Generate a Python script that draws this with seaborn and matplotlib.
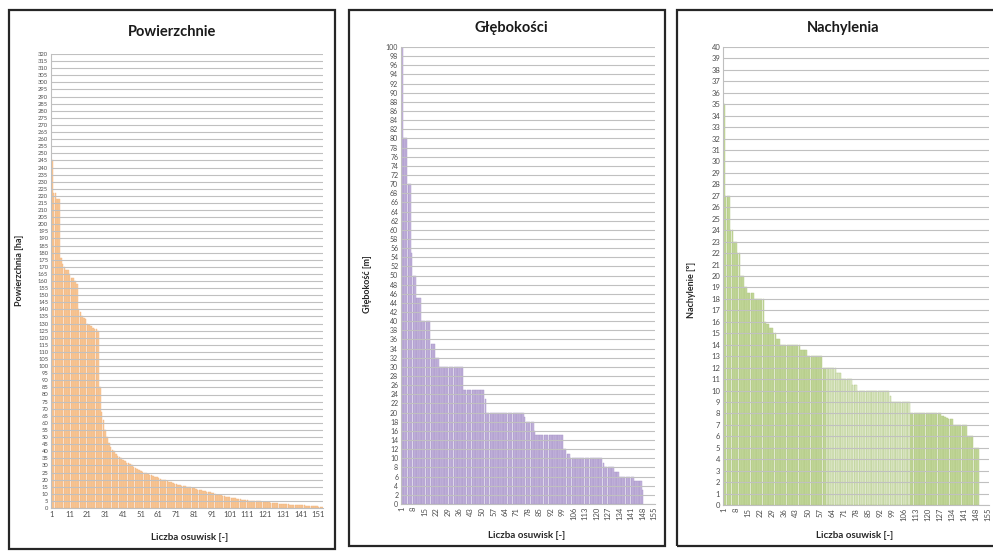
import numpy as np
import pandas as pd
import seaborn as sns
import matplotlib.pyplot as plt
from matplotlib.patches import Rectangle

# --- data (sorted descending, one value per landslide) ---
area_ha = [
    245, 222, 222, 218, 218, 176, 172, 170, 168, 168,
    165, 162, 162, 160, 158, 140, 138, 135, 134, 133,
    130, 129, 128, 127, 126, 126, 125, 85, 68, 62,
    55, 50, 46, 43, 41, 40, 38, 37, 36, 35,
    34, 33, 32, 31.5, 31, 30, 29, 28, 27.5, 27,
    26, 25.5, 25, 24.5, 24, 23.5, 23, 22.5, 22, 21.5,
    21, 20.5, 20, 20, 19.5, 19, 18.5, 18, 17.5, 17.2,
    17, 16.5, 16, 15.8, 15.5, 15.2, 15, 14.8, 14.5, 14.2,
    14, 13.5, 13, 12.8, 12.5, 12.2, 12, 11.5, 11.2, 11,
    10.8, 10.5, 10, 9.5, 9.2, 9, 8.5, 8.2, 8, 7.8,
    7.5, 7.2, 7, 6.8, 6.5, 6.3, 6, 5.8, 5.6, 5.5,
    5.3, 5.2, 5, 5, 4.9, 4.8, 4.7, 4.6, 4.5, 4.3,
    4.2, 4, 3.9, 3.8, 3.6, 3.5, 3.3, 3.2, 3, 2.9,
    2.8, 2.7, 2.6, 2.5, 2.4, 2.3, 2.3, 2.2, 2.2, 2.1,
    2, 1.9, 1.8, 1.7, 1.6, 1.5, 1.4, 1.3, 1.2, 1.1,
    1, 0.8, 0.5,
]
depth_m = [
    100, 80, 80, 80, 70, 70, 55, 50, 50, 45,
    45, 45, 40, 40, 40, 40, 40, 40, 35, 35,
    35, 32, 32, 30, 30, 30, 30, 30, 30, 30,
    30, 30, 30, 30, 30, 30, 30, 30, 25, 25,
    25, 25, 25, 25, 25, 25, 25, 25, 25, 25,
    25, 23, 20, 20, 20, 20, 20, 20, 20, 20,
    20, 20, 20, 20, 20, 20, 20, 20, 20, 20,
    20, 20, 20, 20, 20, 19, 18, 18, 18, 18,
    18, 16, 15, 15, 15, 15, 15, 15, 15, 15,
    15, 15, 15, 15, 15, 15, 15, 15, 15, 12,
    12, 11, 11, 10, 10, 10, 10, 10, 10, 10,
    10, 10, 10, 10, 10, 10, 10, 10, 10, 10,
    10, 10, 10, 9, 8, 8, 8, 8, 8, 8,
    7, 7, 7, 6, 6, 6, 6, 6, 6, 6,
    6, 6, 5, 5, 5, 5, 5, 3,
]
slope_deg = [
    35, 27, 27, 27, 24, 24, 23, 23, 22, 22,
    20, 20, 19, 19, 18.5, 18.5, 18.5, 18.5, 18, 18,
    18, 18, 18, 18, 16, 15.8, 15.8, 15.5, 15.5, 15,
    15, 14.5, 14.5, 14, 14, 14, 14, 14, 14, 14,
    14, 14, 14, 14, 14, 13.5, 13.5, 13.5, 13.5, 13,
    13, 13, 13, 13, 13, 13, 13, 13, 12, 12,
    12, 12, 12, 12, 12, 12, 11.5, 11.5, 11.5, 11,
    11, 11, 11, 11, 11, 10.5, 10.5, 10.5, 10, 10,
    10, 10, 10, 10, 10, 10, 10, 10, 10, 10,
    10, 10, 10, 10, 10, 10, 10, 9.5, 9, 9,
    9, 9, 9, 9, 9, 9, 9, 9, 9, 8,
    8, 8, 8, 8, 8, 8, 8, 8, 8, 8,
    8, 8, 8, 8, 8, 8, 8, 7.8, 7.8, 7.7,
    7.6, 7.5, 7.5, 7.5, 7, 7, 7, 7, 7, 7,
    7, 7, 6, 6, 6, 6, 5, 5, 5,
]

n_area, n_other = 153, 155

sns.set_theme(style="white")
plt.rcParams['font.family'] = ['Lato', 'DejaVu Sans']

fig = plt.figure(figsize=(9.93, 5.51), dpi=100)
W, H = 993, 551


def px_axes(x0, y0, x1, y1):
    # pixel box (top-left origin) -> figure axes
    return fig.add_axes([x0 / W, 1 - y1 / H, (x1 - x0) / W, (y1 - y0) / H])


def frame(x0, y0, x1, y1):
    fig.patches.append(Rectangle((x0 / W, 1 - y1 / H), (x1 - x0) / W, (y1 - y0) / H,
                                 transform=fig.transFigure, fill=False,
                                 edgecolor='#262626', linewidth=1.6))


def style_axes(ax, yticks, ysize):
    ax.set_yticks(yticks)
    ax.tick_params(axis='y', labelsize=ysize, colors='#4d4d4d', length=0, pad=2)
    ax.tick_params(axis='x', colors='#4d4d4d', length=0, pad=2)
    ax.grid(axis='y', color='#c0c0c0', linewidth=0.8)
    ax.grid(axis='x', visible=False)
    ax.set_axisbelow(False)
    for s in ['top', 'right']:
        ax.spines[s].set_visible(False)
    for s in ['left', 'bottom']:
        ax.spines[s].set_color('#bfbfbf')
        ax.spines[s].set_linewidth(0.8)


# ==========================================
# PANEL 1: Powierzchnie
# ==========================================
cats1 = [str(i) for i in range(1, n_area + 1)]
df1 = pd.DataFrame({'nr': cats1[:len(area_ha)], 'val': area_ha})
ax1 = px_axes(51, 54, 323, 508)
sns.barplot(data=df1, x='nr', y='val', order=cats1, color='#f8c797', saturation=1,
            width=0.9, edgecolor='#f2b57e', linewidth=0.3, ax=ax1)
ax1.set_ylim(0, 320)
style_axes(ax1, np.arange(0, 321, 5), 4.2)
ax1.set_xticks(range(0, n_area, 10))
ax1.set_xticklabels([cats1[i] for i in range(0, n_area, 10)], fontsize=5.5)
ax1.set_xlim(-0.5, n_area - 0.5)
ax1.set_xlabel('')
ax1.set_ylabel('')
frame(9, 10, 335, 549)
fig.text(172 / W, 1 - 32 / H, 'Powierzchnie', ha='center', va='center',
         fontsize=10.5, fontweight='bold', color='#1a1a1a')
fig.text(20 / W, 1 - 270 / H, 'Powierzchnia [ha]', ha='center', va='center',
         rotation=90, fontsize=6.5, fontweight='bold', color='#262626')
fig.text(190 / W, 1 - 537 / H, 'Liczba osuwisk [-]', ha='center', va='center',
         fontsize=7, fontweight='bold', color='#262626')

# ==========================================
# PANEL 2: Głębokości
# ==========================================
cats2 = [str(i) for i in range(1, n_other + 1)]
df2 = pd.DataFrame({'nr': cats2[:len(depth_m)], 'val': depth_m})
ax2 = px_axes(401, 47, 655, 504)
sns.barplot(data=df2, x='nr', y='val', order=cats2, color='#c4b5dc', saturation=1,
            width=0.9, edgecolor='#a895c9', linewidth=0.3, ax=ax2)
ax2.set_ylim(0, 100)
style_axes(ax2, np.arange(0, 101, 2), 5)
ax2.set_xticks(range(0, n_other, 7))
ax2.set_xticklabels([cats2[i] for i in range(0, n_other, 7)], fontsize=5.5, rotation=90)
ax2.set_xlim(-0.5, n_other - 0.5)
ax2.set_xlabel('')
ax2.set_ylabel('')
frame(349, 10, 665, 546)
fig.text(511 / W, 1 - 28 / H, 'Głębokości', ha='center', va='center',
         fontsize=10.5, fontweight='bold', color='#1a1a1a')
fig.text(368 / W, 1 - 284 / H, 'Głębokość [m]', ha='center', va='center',
         rotation=90, fontsize=6.5, fontweight='bold', color='#262626')
fig.text(527 / W, 1 - 535 / H, 'Liczba osuwisk [-]', ha='center', va='center',
         fontsize=7, fontweight='bold', color='#262626')

# ==========================================
# PANEL 3: Nachylenia
# ==========================================
cats3 = [str(i) for i in range(1, n_other + 1)]
df3 = pd.DataFrame({'nr': cats3[:len(slope_deg)], 'val': slope_deg})
df3['grupa'] = ['ciemna' if (i < 60 or i >= 109) else 'jasna' for i in range(len(df3))]
ax3 = px_axes(723, 47, 989, 505)
sns.barplot(data=df3, x='nr', y='val', order=cats3, hue='grupa',
            palette={'ciemna': '#c4d89c', 'jasna': '#e2ebcf'}, saturation=1,
            dodge=False, legend=False, width=0.9, edgecolor='#afc781',
            linewidth=0.3, ax=ax3)
ax3.set_ylim(0, 40)
style_axes(ax3, np.arange(0, 41, 1), 5.5)
ax3.set_xticks(range(0, n_other, 7))
ax3.set_xticklabels([cats3[i] for i in range(0, n_other, 7)], fontsize=5.5, rotation=90)
ax3.set_xlim(-0.5, n_other - 0.5)
ax3.set_xlabel('')
ax3.set_ylabel('')
frame(677, 10, 1000, 546)
fig.text(843 / W, 1 - 28 / H, 'Nachylenia', ha='center', va='center',
         fontsize=10.5, fontweight='bold', color='#1a1a1a')
fig.text(692 / W, 1 - 290 / H, 'Nachylenie [°]', ha='center', va='center',
         rotation=90, fontsize=6.5, fontweight='bold', color='#262626')
fig.text(855 / W, 1 - 535 / H, 'Liczba osuwisk [-]', ha='center', va='center',
         fontsize=7, fontweight='bold', color='#262626')

fig.savefig('out.png', dpi=100)
